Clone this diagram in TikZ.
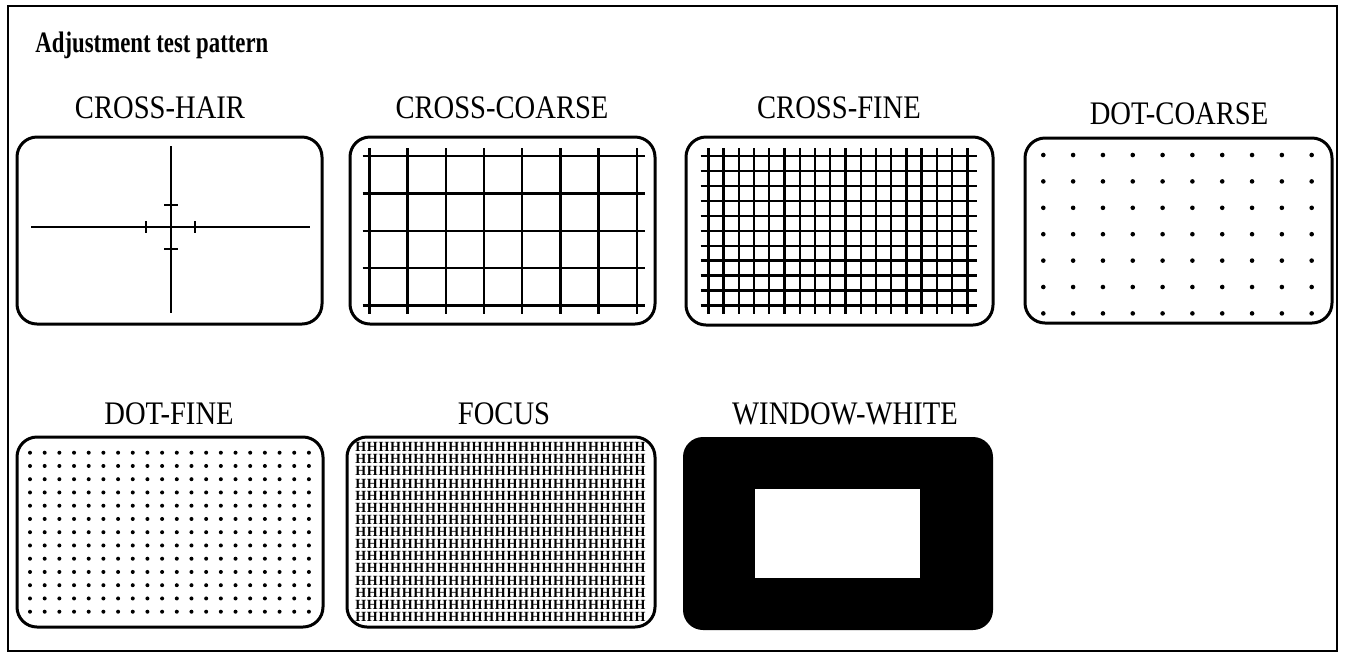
\documentclass[tikz,border=0pt]{standalone}
\usepackage{fontspec}
\usepackage{graphicx}
\setmainfont{Liberation Serif}
\newcommand\talltxt[1]{\scalebox{1}[1.15]{#1}}
\newcommand\talltitle[1]{\scalebox{1}[1.3]{#1}}
\begin{document}
\begin{tikzpicture}[x=0.5pt,y=-0.5pt,
  panel/.style={line width=1.5pt, rounded corners=10pt},
  lbl/.style={font=\fontsize{14.3pt}{16pt}\selectfont, anchor=base, inner sep=0pt},
  gridline/.style={line width=1.2pt},
  hairline/.style={line width=0.8pt},
  tickline/.style={line width=1.4pt},
  dotmark/.style={fill=black},
  hmark/.style={font=\fontsize{7pt}{7pt}\selectfont\bfseries, inner sep=0pt, anchor=center}]
\useasboundingbox (0,0) rectangle (1345,661);
% outer frame
\draw[line width=0.75pt] (8,6) rectangle (1337,651);
% title
\node[font=\fontsize{11.4pt}{13pt}\selectfont\bfseries, anchor=base west, inner sep=0pt] (title) at (35,52) {\talltitle{Adjustment test pattern}};
% labels
\node[lbl] (l1) at (160,118) {\talltxt{CROSS-HAIR}};
\node[lbl] (l2) at (502,118) {\talltxt{CROSS-COARSE}};
\node[lbl] (l3) at (839,118) {\talltxt{CROSS-FINE}};
\node[lbl] (l4) at (1179,124) {\talltxt{DOT-COARSE}};
\node[lbl] (l5) at (169,424) {\talltxt{DOT-FINE}};
\node[lbl] (l6) at (504,424) {\talltxt{FOCUS}};
\node[lbl] (l7) at (845,424) {\talltxt{WINDOW-WHITE}};
% CROSS-HAIR
\draw[panel] (17,137) rectangle (322,324);
\draw[hairline] (31,227) -- (310,227);
\draw[hairline] (171,146) -- (171,313);
\draw[tickline] (146,221) -- (146,233);
\draw[tickline] (195,221) -- (195,233);
\draw[tickline] (164,205) -- (178,205);
\draw[tickline] (164,249) -- (178,249);
% CROSS-COARSE
\draw[panel] (350,137) rectangle (655,324);
\foreach \i in {0,...,7} \draw[gridline] ({369.3+38.2*\i},148) -- ({369.3+38.2*\i},314);
\foreach \j in {0,...,4} \draw[gridline] (362.7,{156+37.4*\j}) -- (645,{156+37.4*\j});
% CROSS-FINE
\draw[panel] (686,137) rectangle (993,325);
\foreach \i in {0,...,17} \draw[gridline] ({708.3+15.24*\i},148) -- ({708.3+15.24*\i},314);
\foreach \j in {0,...,10} \draw[gridline] (700.7,{156+14.95*\j}) -- (976.7,{156+14.95*\j});
% DOT-COARSE
\draw[panel] (1025,138) rectangle (1332,323);
\foreach \i in {0,...,9} \foreach \j in {0,...,6} \fill[dotmark] ({1043.3+29.82*\i},{155+26.4*\j}) circle (2.3);
% DOT-FINE
\draw[panel] (17,437) rectangle (323,627);
\foreach \i in {0,...,19} \foreach \j in {0,...,12} \fill[dotmark] ({30+14.68*\i},{452.7+13.25*\j}) circle (2.0);
% FOCUS
\draw[panel] (347,437) rectangle (655,627);
\foreach \i in {0,...,24} \foreach \j in {0,...,14} \node[hmark] at ({360.7+11.64*\i},{447+12.14*\j}) {H};
% WINDOW-WHITE
\fill[rounded corners=10pt] (683,437) rectangle (993,630);
\fill[white] (755,489) rectangle (920,578);
\end{tikzpicture}
\end{document}
